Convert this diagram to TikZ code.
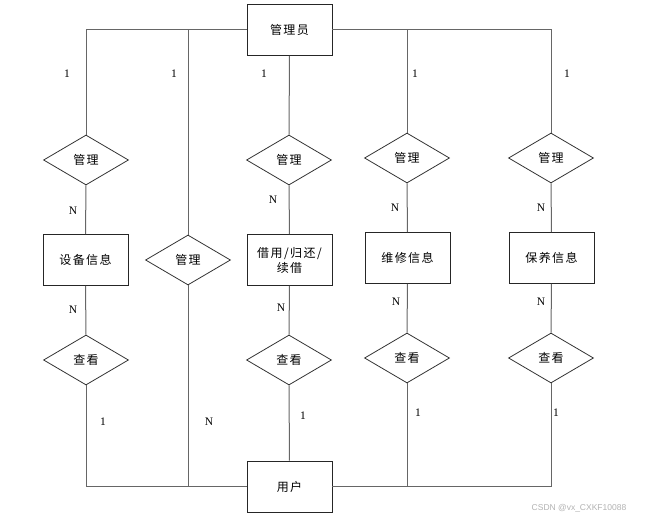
\documentclass[tikz,border=0pt]{standalone}
\usepackage{fontspec}
\setmainfont{Liberation Serif}
\newfontfamily\cjk[LetterSpace=12]{Noto Sans CJK SC}
\newfontfamily\wmfont{Liberation Sans}
\usetikzlibrary{shapes.geometric}
\begin{document}
\begin{tikzpicture}[x=1pt,y=-1pt,
  ent/.style={draw=black!85,line width=0.9pt,minimum width=85pt,minimum height=51pt,inner sep=1pt,font=\cjk\fontsize{12}{15}\selectfont,align=center},
  rel/.style={draw=black!80,line width=0.8pt,diamond,minimum width=85pt,minimum height=50pt,inner sep=0pt,font=\cjk\fontsize{12}{15}\selectfont},
  conn/.style={draw=black!60,line width=1pt},
  card/.style={font=\fontsize{11.5}{13}\selectfont,inner sep=0pt}]
\useasboundingbox (0,0) rectangle (646,519);
% entities
\node[ent] (mgr) at (289.5,30) {管理员};
\node[ent] (user) at (289.5,486.5) {用户};
\node[ent] (e1) at (85.5,260) {设备信息};
\node[ent] (e3) at (289.5,260) {借用/归还/\\续借};
\node[ent] (e4) at (407.5,258) {维修信息};
\node[ent] (e5) at (551.5,258) {保养信息};
% relations
\node[rel] (m1) at (86,160) {管理};
\node[rel] (m2) at (188,260) {管理};
\node[rel] (m3) at (289,160) {管理};
\node[rel] (m4) at (407,158) {管理};
\node[rel] (m5) at (551,158) {管理};
\node[rel] (v1) at (86,360) {查看};
\node[rel] (v3) at (289,360) {查看};
\node[rel] (v4) at (407,358) {查看};
\node[rel] (v5) at (551,358) {查看};
% connectors
\draw[conn] (mgr) -| (m1.north);
\draw[conn] (mgr) -| (m2.north);
\draw[conn] (mgr) -- (m3);
\draw[conn] (mgr) -| (m4.north);
\draw[conn] (mgr) -| (m5.north);
\draw[conn] (m1) -- (e1);
\draw[conn] (e1) -- (v1);
\draw[conn] (v1.south) |- (user);
\draw[conn] (m2.south) |- (user);
\draw[conn] (m3) -- (e3);
\draw[conn] (e3) -- (v3);
\draw[conn] (v3) -- (user);
\draw[conn] (m4) -- (e4);
\draw[conn] (e4) -- (v4);
\draw[conn] (v4.south) |- (user);
\draw[conn] (m5) -- (e5);
\draw[conn] (e5) -- (v5);
\draw[conn] (v5.south) |- (user);
% cardinalities
\node[card] (c1) at (67,74) {1};
\node[card] (c2) at (174,74) {1};
\node[card] (c3) at (264,74) {1};
\node[card] (c4) at (415,74) {1};
\node[card] (c5) at (567,74) {1};
\node[card] (n1) at (73,211) {N};
\node[card] (n3) at (273,200) {N};
\node[card] (n4) at (395,208) {N};
\node[card] (n5) at (541,208) {N};
\node[card] (p1) at (73,310) {N};
\node[card] (p3) at (281,308) {N};
\node[card] (p4) at (396,302) {N};
\node[card] (p5) at (541,302) {N};
\node[card] (q1) at (103,422) {1};
\node[card] (q2) at (209,422) {N};
\node[card] (q3) at (303,416) {1};
\node[card] (q4) at (418,413) {1};
\node[card] (q5) at (556,413) {1};
% watermark
\node[font=\wmfont\fontsize{8.5}{10}\selectfont,text=black!30,inner sep=0pt] (wm) at (579,508) {CSDN @vx\_CXKF10088};
\end{tikzpicture}
\end{document}
